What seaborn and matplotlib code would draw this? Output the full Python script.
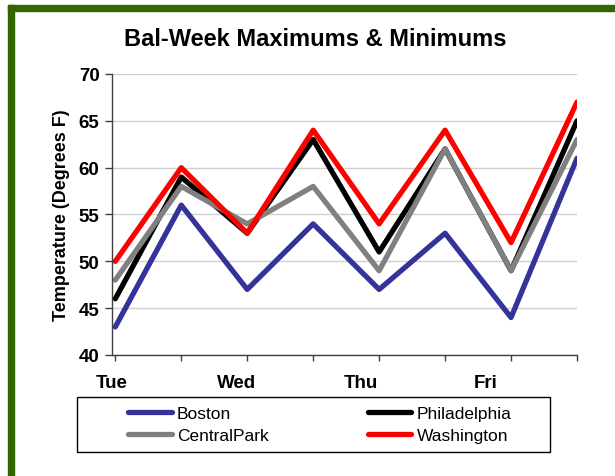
import numpy as np
import pandas as pd
import matplotlib
matplotlib.use('Agg')
import matplotlib.pyplot as plt
from matplotlib.patches import Rectangle
import seaborn as sns

# ── Data ──────────────────────────────────────────────────────────────
days       = ['Tue', 'Wed', 'Thu', 'Fri']
points     = list(range(8))
boston     = [43, 56, 47, 54, 47, 53, 44, 61]
philly     = [46, 59, 53, 63, 51, 62, 49, 65]
centralpk  = [48, 58, 54, 58, 49, 62, 49, 63]
washington = [50, 60, 53, 64, 54, 64, 52, 67]

cities  = ['Boston', 'Philadelphia', 'CentralPark', 'Washington']
colors  = ['#333399', '#000000', '#808080', '#FF0000']

df = pd.DataFrame({
    'x':    points * 4,
    'temp': boston + philly + centralpk + washington,
    'city': np.repeat(cities, len(points)),
})

sns.set_style('white')
plt.rcParams['font.family'] = ['Liberation Sans', 'DejaVu Sans']
plt.rcParams['text.color'] = 'black'
plt.rcParams['axes.labelcolor'] = 'black'
plt.rcParams['xtick.color'] = 'black'
plt.rcParams['ytick.color'] = 'black'

fig = plt.figure(figsize=(6.15, 4.77), dpi=100)
W, H = 615, 477
ax = fig.add_axes([112 / W, 1 - 356 / H, 465 / W, 281 / H])

sns.lineplot(data=df, x='x', y='temp', hue='city', hue_order=cities,
             palette=colors, linewidth=3.8, ax=ax, legend=False,
             sort=False)

ax.set_xlim(0, 7)
ax.set_ylim(40, 70)
ax.set_yticks(range(40, 71, 5))
ax.yaxis.grid(True, color='#D0D0D0', linewidth=1)
ax.set_axisbelow(True)

# tick marks on every point, day labels offset like the original
ax.set_xticks(points)
ax.set_xticklabels([''] * len(points))
ax.set_xticks([-0.05, 1.84, 3.73, 5.62], minor=True)
ax.set_xticklabels(days, minor=True, fontsize=13.5, fontweight='bold')
ax.tick_params(axis='x', which='major', direction='out', length=4,
               width=1, color='#404040', bottom=True)
ax.tick_params(axis='x', which='minor', length=0, pad=14)
ax.tick_params(axis='y', direction='out', length=5, width=1,
               color='#404040', left=True, labelsize=13.5, pad=4)
for lbl in ax.get_yticklabels():
    lbl.set_fontweight('bold')

for s in ['top', 'right']:
    ax.spines[s].set_visible(False)
for s in ['left', 'bottom']:
    ax.spines[s].set_color('#404040')
    ax.spines[s].set_linewidth(1)

ax.set_xlabel('')
ax.set_ylabel('Temperature (Degrees F)', fontsize=13, fontweight='bold',
              labelpad=6)

fig.text(315 / W, 1 - 39 / H, 'Bal-Week Maximums & Minimums',
         ha='center', va='center', fontsize=17, fontweight='bold')

# legend: framed box with two columns
fig.patches.append(Rectangle((77 / W, 1 - 453 / H), 473 / W, 55 / H,
                             transform=fig.transFigure, fill=False,
                             edgecolor='#000000', linewidth=1))
handles = [plt.Line2D([], [], color=c, linewidth=3.8,
                      solid_capstyle='round') for c in colors]
order = [0, 2, 1, 3]
fig.legend([handles[i] for i in order], [cities[i] for i in order],
           ncol=2, mode='expand', frameon=False,
           bbox_to_anchor=(125 / W, 1 - 452 / H, 390 / W, 53 / H),
           loc='center', fontsize=12.5, handlelength=2.5,
           handletextpad=0.3, labelspacing=0.35, borderpad=0.2,
           borderaxespad=0)

# green frame (top and left edge)
fig.patches.append(Rectangle((8 / W, 1 - 12 / H), 1, 6 / H,
                             transform=fig.transFigure,
                             color='#336600', zorder=0))
fig.patches.append(Rectangle((8 / W, 0), 6 / W, 1 - 6 / H,
                             transform=fig.transFigure,
                             color='#336600', zorder=0))

fig.savefig('out.png', dpi=100)
